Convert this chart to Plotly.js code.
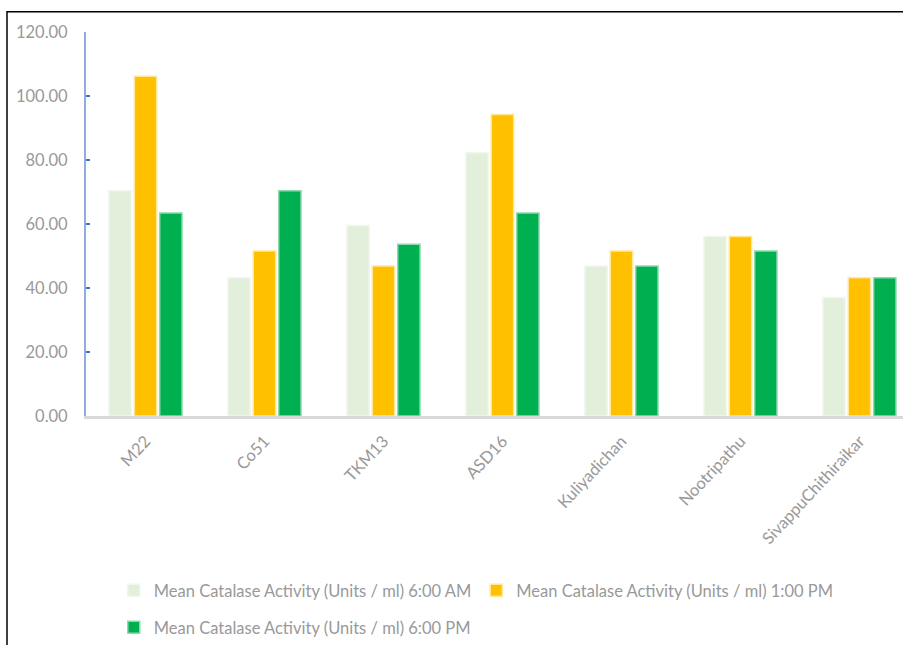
<!DOCTYPE html>
<html>
<head>
<meta charset="utf-8">
<script src="https://cdn.plot.ly/plotly-3.0.1.min.js"></script>
<style>
html,body{margin:0;padding:0;background:#fff;}
#chart{width:903px;height:645px;}
</style>
</head>
<body>
<div id="chart"></div>
<script>
const categories = ["M22", "Co51", "TKM13", "ASD16", "Kuliyadichan", "Nootripathu", "SivappuChithiraikar"];
const seriesNames = [
  "Mean Catalase Activity (Units / ml) 6:00 AM",
  "Mean Catalase Activity (Units / ml) 1:00 PM",
  "Mean Catalase Activity (Units / ml) 6:00 PM"
];
const values6AM = [70.4, 43.2, 59.5, 82.3, 46.9, 56.1, 37.0];
const values1PM = [106.2, 51.6, 46.9, 94.2, 51.6, 56.1, 43.2];
const values6PM = [63.4, 70.4, 53.7, 63.4, 46.9, 51.6, 43.2];
const yTicks = [0, 20, 40, 60, 80, 100, 120];

const colors = ["#E2EFDA", "#FFC000", "#00B050"];
const lineColors = ["#F0F7EC", "#FFE699", "#8FD9AE"];
const allValues = [values6AM, values1PM, values6PM];

const traces = allValues.map((v, i) => ({
  type: "bar",
  name: seriesNames[i],
  x: categories,
  y: v,
  marker: {color: colors[i], line: {color: lineColors[i], width: 1.5}},
  legend: i < 2 ? "legend" : "legend2",
  hoverinfo: "x+y"
}));

const textFamily = "Lato, 'Open Sans', sans-serif";
const legendFont = {family: textFamily, size: 16.5, color: "#999999"};

const layout = {
  width: 903,
  height: 645,
  margin: {l: 86, r: 0, t: 32, b: 228},
  paper_bgcolor: "#ffffff",
  plot_bgcolor: "#ffffff",
  barmode: "group",
  bargap: 0.36,
  bargroupgap: 0.12,
  showlegend: true,
  xaxis: {
    type: "category",
    range: [-0.5, 6.366],
    tickangle: -47,
    showgrid: false,
    showline: true,
    linecolor: "#D9D9D9",
    linewidth: 3,
    ticks: "",
    ticklabelstandoff: 6,
    tickfont: {family: textFamily, size: 16.5, color: "#999999"},
    fixedrange: true
  },
  yaxis: {
    range: [0, 120],
    tickvals: yTicks,
    tickformat: ".2f",
    showgrid: false,
    zeroline: false,
    showline: true,
    linecolor: "#8FAADC",
    linewidth: 2,
    ticks: "inside",
    ticklen: 4,
    tickwidth: 2,
    tickcolor: "#4472C4",
    ticklabelstandoff: 13,
    tickfont: {family: textFamily, size: 16.5, color: "#999999"},
    fixedrange: true
  },
  legend: {
    orientation: "h",
    x: 0.034, xanchor: "left",
    y: -0.451, yanchor: "middle",
    font: legendFont,
    itemwidth: 30,
    traceorder: "normal",
    bgcolor: "rgba(0,0,0,0)"
  },
  legend2: {
    orientation: "h",
    x: 0.034, xanchor: "left",
    y: -0.549, yanchor: "middle",
    font: legendFont,
    itemwidth: 30,
    bgcolor: "rgba(0,0,0,0)"
  },
  shapes: [{
    type: "rect",
    xref: "paper", yref: "paper",
    x0: -0.0967, x1: 2,
    y0: -2, y1: 1.053,
    line: {color: "#000000", width: 1.5},
    fillcolor: "rgba(0,0,0,0)",
    layer: "above"
  }]
};

Plotly.newPlot("chart", traces, layout, {displayModeBar: false, staticPlot: true});
</script>
</body>
</html>
